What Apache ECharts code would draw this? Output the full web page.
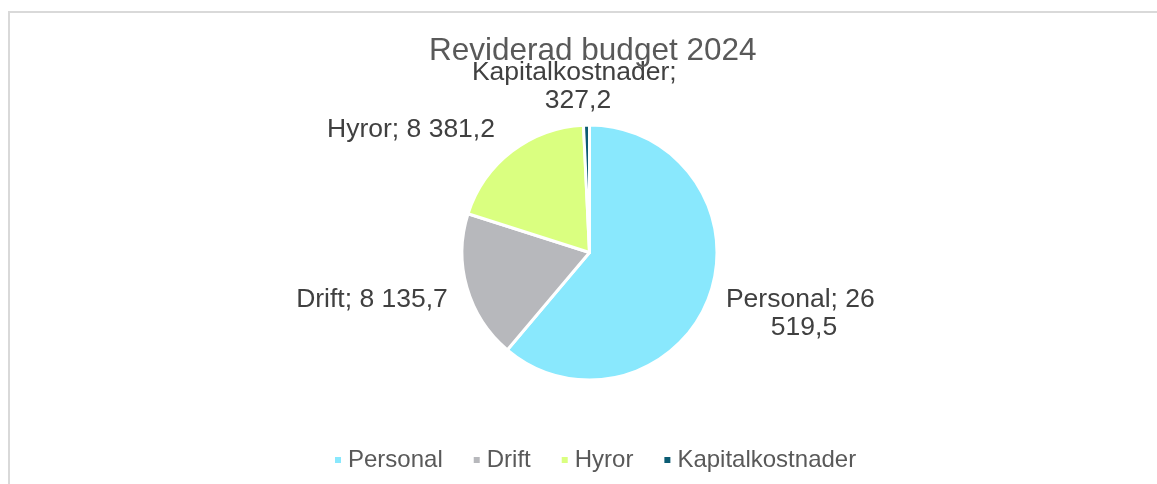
<!DOCTYPE html>
<html>
<head>
<meta charset="utf-8">
<title>Reviderad budget 2024</title>
<script src="https://cdn.jsdelivr.net/npm/echarts@6/dist/echarts.min.js"></script>
<style>
  html, body { margin: 0; padding: 0; background: #fff; }
  #frame {
    position: absolute; left: 8px; top: 11px; width: 1200px; height: 600px;
    border-left: 2px solid #d9d9d9; border-top: 2px solid #d9d9d9;
  }
  #chart { position: absolute; left: 0; top: 0; width: 1157px; height: 484px; }
</style>
</head>
<body>
<div id="frame"></div>
<div id="chart"></div>
<script>
// kategorier och värden (mnkr)
const categories = ['Personal', 'Drift', 'Hyror', 'Kapitalkostnader'];
const values = [26519.5, 8135.7, 8381.2, 327.2];
const colors = ['#89e8fd', '#b7b8bc', '#daff80', '#0b5c73'];

// etikettplacering (x, y, bredd för radbrytning)
const labelPos = [[804, 314, 165], [372, 300, 400], [411, 130, 400], [578, 87, 215]];

function fmt(v) {
    const parts = v.toFixed(1).split('.');
    const intPart = parts[0].replace(/\B(?=(\d{3})+(?!\d))/g, ' ');
    return intPart + ',' + parts[1];
}

const myChart = echarts.init(document.getElementById('chart'));

const seriesData = categories.map((name, i) => {
    return {
        name: name,
        value: values[i],
        itemStyle: { color: colors[i] },
        label: { width: labelPos[i][2] }
    }
});

const option = {
    animation: false,
    title: {
        text: 'Reviderad budget 2024',
        left: 424,
        top: 30,
        textStyle: {
            fontFamily: 'Liberation Sans',
            fontSize: 31.5,
            fontWeight: 'normal',
            color: '#595959'
        }
    },
    legend: {
        bottom: 7,
        left: 328,
        icon: 'rect',
        itemWidth: 8,
        itemHeight: 8,
        itemGap: 29,
        textStyle: {
            fontFamily: 'Liberation Sans',
            fontSize: 24,
            color: '#595959',
            padding: [0, 0, 0, 1]
        },
        data: categories
    },
    series: [{
        type: 'pie',
        center: [589.5, 252.5],
        radius: 127.5,
        startAngle: 90,
        clockwise: true,
        itemStyle: {
            borderColor: '#fff',
            borderWidth: 3
        },
        label: {
            show: true,
            position: 'outside',
            fontFamily: 'Liberation Sans',
            fontSize: 26.5,
            lineHeight: 28,
            color: '#404040',
            align: 'center',
            overflow: 'break',
            formatter: p => p.name + '; ' + fmt(p.value)
        },
        labelLine: { show: false },
        labelLayout: params => {
            const pos = labelPos[params.dataIndex];
            return {
                x: pos[0],
                y: pos[1],
                align: 'center',
                verticalAlign: 'middle'
            }
        },
        data: seriesData
    }]
};

myChart.setOption(option);
</script>
</body>
</html>
